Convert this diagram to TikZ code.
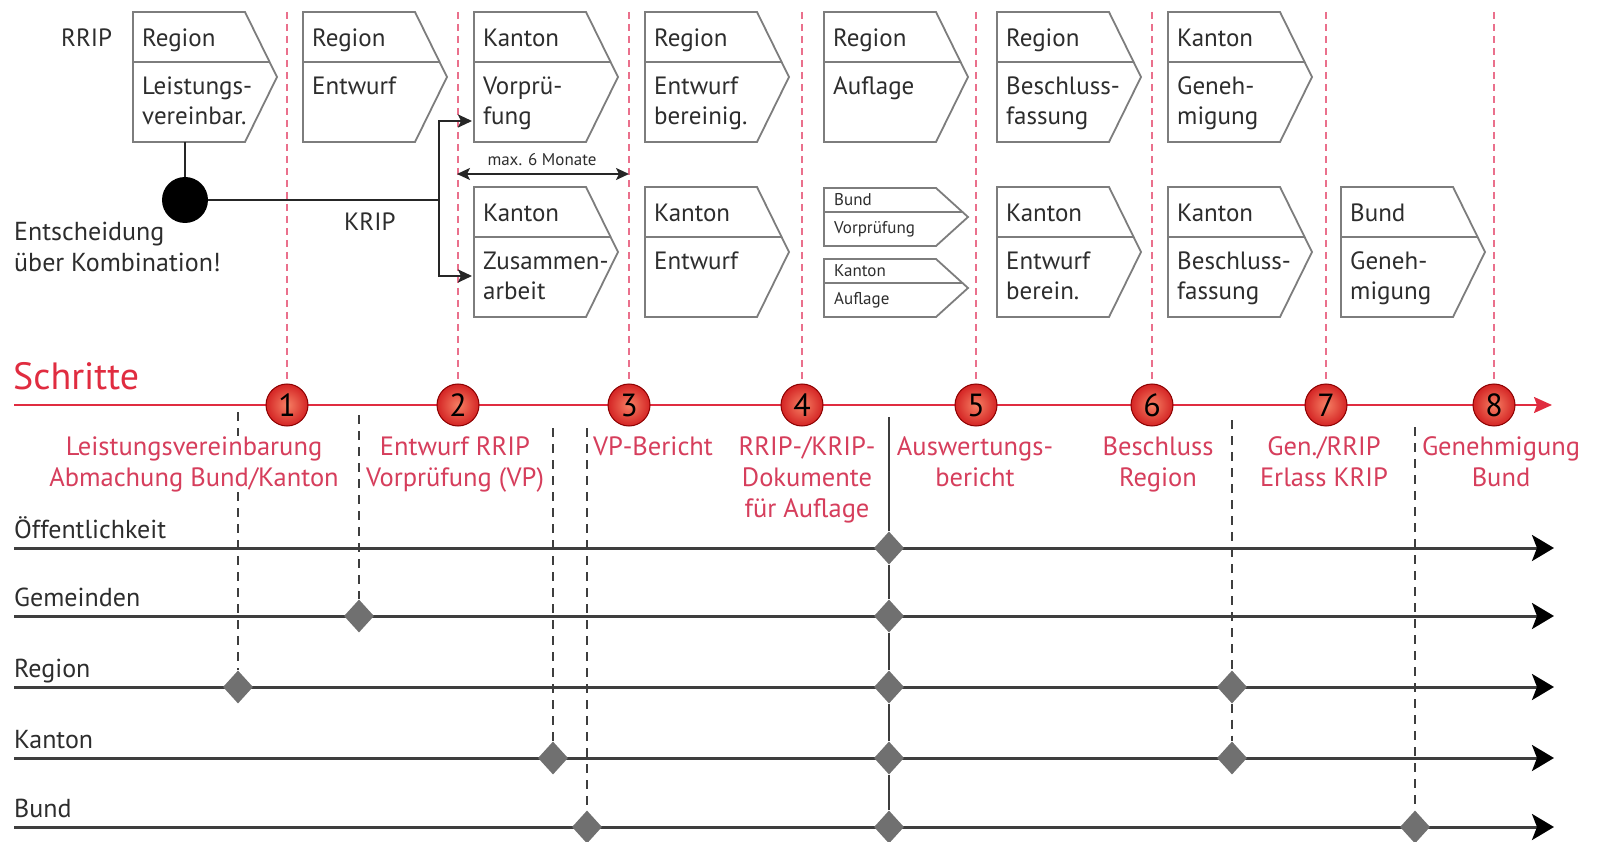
\documentclass[tikz,border=0pt]{standalone}
\usepackage{fontspec}
\setmainfont{PT Sans}
\usetikzlibrary{arrows.meta,shapes.geometric}

\definecolor{schrittrot}{RGB}{224,44,64}
\definecolor{textrot}{RGB}{214,62,92}
\definecolor{strichrot}{RGB}{234,112,140}
\definecolor{rahmengrau}{RGB}{125,125,125}
\definecolor{bahngrau}{RGB}{62,62,62}
\definecolor{rautengrau}{RGB}{112,112,112}
\definecolor{schrift}{RGB}{45,45,45}

\tikzset{rahmen/.style = {draw=rahmengrau, line width=1.8pt, fill=white},
         kopf/.style = {anchor=base west, inner sep=0pt, text=schrift,
                        font=\fontsize{25}{30}\selectfont},
         inhalt/.style = {kopf, align=left},
         klein/.style = {anchor=base west, inner sep=0pt, text=schrift,
                         font=\fontsize{17}{18}\selectfont},
         schritt/.style = {shape = circle,
                           minimum size = 42pt,
                           inner sep = 0pt,
                           draw = red!55!black,
                           line width = 1pt,
                           inner color = {rgb,255:red,246;green,128;blue,100},
                           outer color = {rgb,255:red,212;green,36;blue,36},
                           font = \fontsize{32}{32}\selectfont},
         schrittext/.style = {anchor=base, inner sep=0pt, align=center, text=textrot,
                              fill=white, font=\fontsize{26.5}{31}\selectfont},
         trenner/.style = {draw=strichrot, line width=2pt, dash pattern=on 7pt off 5pt},
         achse/.style = {draw=schrittrot, line width=2pt,
                         -{Stealth[length=18pt, width=16pt, inset=3pt]}},
         bahn/.style = {draw=bahngrau, line width=3pt,
                        -{Stealth[black, length=22pt, width=26pt, inset=5pt]}},
         bahntext/.style = {anchor=base west, inner sep=0pt, text=schrift,
                            font=\fontsize{26}{28}\selectfont},
         raute/.style = {shape = diamond, fill = rautengrau, inner sep = 0pt,
                         minimum width = 30pt, minimum height = 33pt},
         verbinder/.style = {draw=bahngrau, line width=2pt, dash pattern=on 9pt off 7pt},
         stab/.style = {draw=bahngrau, line width=2pt},
         linie/.style = {draw=black!85, line width=2.4pt},
         pfeil/.style = {-{Stealth[length=14pt, width=13pt, inset=3pt]}},
         punkt/.style = {shape = circle, fill = black, minimum size = 46pt, inner sep = 0pt}}

\begin{document}
\begin{tikzpicture}[x=1pt, y=-1pt]
  \useasboundingbox (0,0) rectangle (1599,842);

  % Schritte
  \coordinate (sa) at (14,405);
  \coordinate (se) at (1552,405);
  \draw[achse] (sa) -- (se);
  \node[anchor=base west, inner sep=0pt, text=schrittrot,
        font=\fontsize{38}{40}\selectfont] (schritte) at (13,389) {Schritte};
  \foreach \i/\x in {1/287,2/458,3/629,4/802,5/976,6/1152,7/1326,8/1494} {
    \coordinate (o\i) at (\x,12);
    \node[schritt] (s\i) at (\x,405) {\i};
    \draw[trenner] (o\i) -- (s\i);
  }

  % Prozesse RRIP / KRIP (\z = Grundlinie der letzten Zeile)
  \foreach \nm/\x/\y/\z/\kopf/\inh in {
      b1/133/12/113/Region/{Leistungs-\\vereinbar.},
      b2/303/12/83/Region/Entwurf,
      b3/474/12/113/Kanton/{Vorprü-\\fung},
      b4/645/12/113/Region/{Entwurf\\bereinig.},
      b5/824/12/83/Region/Auflage,
      b6/997/12/113/Region/{Beschluss-\\fassung},
      b7/1168/12/113/Kanton/{Geneh-\\migung},
      c3/474/187/113/Kanton/{Zusammen-\\arbeit},
      c4/645/187/83/Kanton/Entwurf,
      c6/997/187/113/Kanton/{Entwurf\\berein.},
      c7/1168/187/113/Kanton/{Beschluss-\\fassung},
      c8/1341/187/113/Bund/{Geneh-\\migung}} {
    \draw[rahmen] (\x,\y) -- ++(112,0) -- ++(32,65) -- ++(-32,65) -- ++(-112,0) -- cycle;
    \draw[rahmen] (\x,\y+50) -- ++(136.6,0);
    \node[kopf] (\nm-k) at (\x+9,\y+35) {\kopf};
    \node[inhalt] (\nm-t) at (\x+9,\y+\z) {\inh};
  }
  \foreach \nm/\x/\y/\kopf/\inh in {
      c5a/824/188/Bund/Vorprüfung,
      c5b/824/259/Kanton/Auflage} {
    \draw[rahmen] (\x,\y) -- ++(112,0) -- ++(32,29) -- ++(-32,29) -- ++(-112,0) -- cycle;
    \draw[rahmen] (\x,\y+24) -- ++(138.5,0);
    \node[klein] (\nm-k) at (\x+10,\y+18) {\kopf};
    \node[klein] (\nm-t) at (\x+10,\y+46) {\inh};
  }

  \node[kopf] (rrip) at (61,47) {RRIP};
  \node[kopf] (krip) at (344,231) {KRIP};
  \node[inhalt, font=\fontsize{26}{31}\selectfont] (entsch) at (14,272)
       {Entscheidung\\über Kombination!};
  \coordinate (b1-s) at (185,142);
  \node[punkt] (dot) at (185,200) {};
  \coordinate (gabel) at (439,200);
  \coordinate (vp-ein) at (472,121);
  \coordinate (za-ein) at (472,276);
  \draw[linie] (b1-s) -- (dot);
  \draw[linie] (dot) -- (gabel);
  \draw[linie, pfeil] (gabel) |- (vp-ein);
  \draw[linie, pfeil] (gabel) |- (za-ein);

  \coordinate (m-a) at (457,174);
  \coordinate (m-b) at (629,174);
  \draw[linie, line width=2pt, {Stealth[length=13pt, width=12pt, inset=3pt]}-{Stealth[length=13pt, width=12pt, inset=3pt]}] (m-a) -- (m-b);
  \node[klein, anchor=base] (monate) at (542,166) {max. 6 Monate};

  % Akteure
  \foreach \nm/\y/\lbl in {oef/548/Öffentlichkeit, gem/616/Gemeinden, reg/687/Region,
                           kan/758/Kanton, bund/827/Bund} {
    \coordinate (\nm-a) at (14,\y);
    \coordinate (\nm-e) at (1554,\y);
    \draw[bahn] (\nm-a) -- (\nm-e);
    \node[bahntext] (\nm-t) at (14,\y-10) {\lbl};
  }
  \foreach \nm/\x/\y in {reg1/238/687, gem2/359/616, kan3/553/758, bund3/587/827,
                         oef5/889/548, gem5/889/616, reg5/889/687, kan5/889/758,
                         bund5/889/827, reg6/1232/687, kan6/1232/758, bund8/1415/827}
    \node[raute] (\nm) at (\x,\y) {};

  \coordinate (v1) at (238,412);
  \coordinate (v2) at (359,415);
  \coordinate (v3) at (553,428);
  \coordinate (v4) at (587,428);
  \coordinate (v5) at (889,417);
  \coordinate (v6) at (1232,420);
  \coordinate (v8) at (1415,427);
  \draw[verbinder] (v1) -- (reg1);
  \draw[verbinder] (v2) -- (gem2);
  \draw[verbinder] (v3) -- (kan3);
  \draw[verbinder] (v4) -- (bund3);
  \draw[stab] (v5) -- (oef5) -- (gem5) -- (reg5) -- (kan5) -- (bund5);
  \draw[verbinder] (v6) -- (reg6) -- (kan6);
  \draw[verbinder] (v8) -- (bund8);

  % Beschriftung der Schritte (Grundlinie der letzten Zeile)
  \node[schrittext] (l1) at (194,486) {Leistungsvereinbarung\\Abmachung Bund/Kanton};
  \node[schrittext] (l2) at (455,486) {Entwurf RRIP\\Vorprüfung (VP)};
  \node[schrittext] (l3) at (653,455) {VP-Bericht};
  \node[schrittext] (l4) at (807,517) {RRIP-/KRIP-\\Dokumente\\für Auflage};
  \node[schrittext] (l5) at (975,486) {Auswertungs-\\bericht};
  \node[schrittext] (l6) at (1158,486) {Beschluss\\Region};
  \node[schrittext] (l7) at (1324,486) {Gen./RRIP\\Erlass KRIP};
  \node[schrittext] (l8) at (1501,486) {Genehmigung\\Bund};
\end{tikzpicture}
\end{document}
